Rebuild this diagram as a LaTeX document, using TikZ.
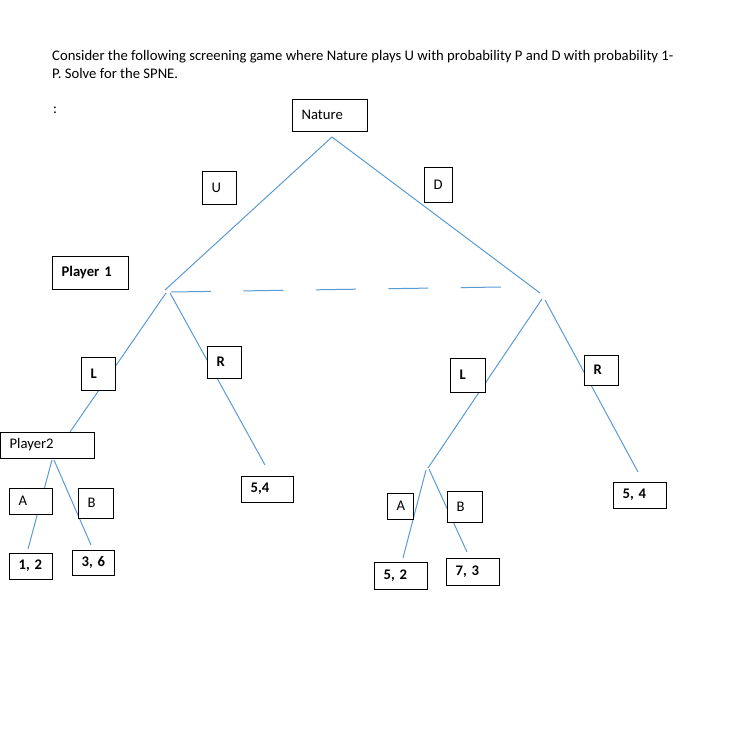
\documentclass[tikz,border=0pt]{standalone}
\usepackage{fontspec}
\setmainfont{Carlito}
\definecolor{edgeblue}{RGB}{91,155,213}
\tikzset{
  txt/.style={font=\fontsize{14.67}{17.6}\selectfont, inner sep=0pt},
  box/.style={draw=black, fill=white, line width=1pt, inner xsep=9.6pt, inner ysep=0pt,
              align=left, font=\fontsize{14.67}{17.6}\selectfont},
  edge/.style={draw=edgeblue, line width=1pt},
  infoset/.style={edge, dash pattern=on 40pt off 32.5pt}
}
\newcommand\tbox[6]{%
  \pgfmathsetmacro\bxw{#4-#2}\pgfmathsetmacro\bxh{#5-#3}\pgfmathsetmacro\bxt{#4-#2-19.2}%
  \node[box, minimum width=\bxw pt, minimum height=\bxh pt, text width=\bxt pt] (#1) at ({(#2+#4)/2},{(#3+#5)/2}) {\mbox{#6}};}
\begin{document}
\begin{tikzpicture}[x=1pt,y=-1pt]
\useasboundingbox (0,0) rectangle (739,756);
\fill[white] (0,0) rectangle (739,756);
% question text
\node[txt, anchor=base west] (q1) at (52,60) {Consider the following screening game where Nature plays U with probability P and D with probability 1-};
\node[txt, anchor=base west] (q2) at (52,78.5) {P. Solve for the SPNE.};
\node[txt, anchor=base west] (colon) at (53,113) {:};
% tree points
\coordinate (nat) at (332,137);
\coordinate (p1l) at (165,290);
\coordinate (p1r) at (540,293);
\coordinate (l1s) at (166,293); \coordinate (l1e) at (70,432);
\coordinate (r1s) at (170,293); \coordinate (r1e) at (265,465);
\coordinate (l2s) at (542,299); \coordinate (l2e) at (428,468);
\coordinate (r2s) at (545,300); \coordinate (r2e) at (638,472);
\coordinate (a1s) at (52,460);  \coordinate (a1e) at (28,549);
\coordinate (b1s) at (54,460);  \coordinate (b1e) at (91,545);
\coordinate (a2s) at (426,470); \coordinate (a2e) at (403,558);
\coordinate (b2s) at (429,469); \coordinate (b2e) at (467,552);
\coordinate (h1) at (171,292);  \coordinate (h2) at (501,287);
% edges
\draw[edge] (nat) -- (p1l);
\draw[edge] (nat) -- (p1r);
\draw[edge] (l1s) -- (l1e);
\draw[edge] (r1s) -- (r1e);
\draw[edge] (l2s) -- (l2e);
\draw[edge] (r2s) -- (r2e);
\draw[edge] (a1s) -- (a1e);
\draw[edge] (b1s) -- (b1e);
\draw[edge] (a2s) -- (a2e);
\draw[edge] (b2s) -- (b2e);
\draw[infoset] (h1) -- (h2);
% boxes
\tbox{nature}{292}{99}{367}{131}{Nature}
\tbox{ubox}{202}{171}{236}{204}{U}
\tbox{dbox}{424}{167}{452}{202}{D}
\tbox{pone}{52}{256}{128}{289}{\textbf{Player 1}}
\tbox{lone}{81}{357}{115}{390}{\textbf{L}}
\tbox{rone}{207}{346}{241}{378}{\textbf{R}}
\tbox{ptwo}{0}{432}{94}{458}{Player2}
\tbox{aone}{9}{488}{52}{514}{A}
\tbox{bone}{78}{488}{113}{518}{B}
\tbox{payA}{9}{553}{52}{579}{\textbf{1, 2}}
\tbox{payB}{72}{550}{114}{575}{\textbf{3, 6}}
\tbox{payR}{241}{476}{293}{502}{\textbf{5,4}}
\tbox{ltwo}{450}{358}{485}{392}{\textbf{L}}
\tbox{rtwo}{584}{355}{618}{385}{\textbf{R}}
\tbox{payRR}{613}{482}{666}{508}{\textbf{5, 4}}
\tbox{atwo}{387}{493}{413}{519}{A}
\tbox{btwo}{447}{491}{482}{522}{B}
\tbox{payAA}{374}{562}{427}{589}{\textbf{5, 2}}
\tbox{payBB}{446}{558}{499}{585}{\textbf{7, 3}}
\end{tikzpicture}
\end{document}
